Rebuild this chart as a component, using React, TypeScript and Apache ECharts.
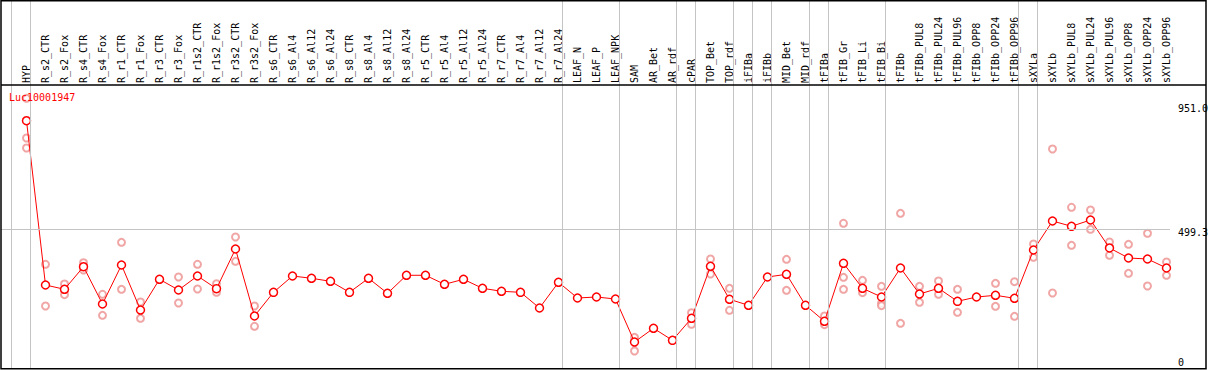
import React, { useEffect, useRef } from "react";
import * as echarts from "echarts";

const categories = [
  "HYP", "R_s2_CTR", "R_s2_Fox", "R_s4_CTR", "R_s4_Fox", "R_r1_CTR", "R_r1_Fox", "R_r3_CTR", "R_r3_Fox",
  "R_r1s2_CTR", "R_r1s2_Fox", "R_r3s2_CTR", "R_r3s2_Fox", "R_s6_CTR", "R_s6_Al4", "R_s6_Al12", "R_s6_Al24",
  "R_s8_CTR", "R_s8_Al4", "R_s8_Al12", "R_s8_Al24", "R_r5_CTR", "R_r5_Al4", "R_r5_Al12", "R_r5_Al24",
  "R_r7_CTR", "R_r7_Al4", "R_r7_Al12", "R_r7_Al24", "LEAF_N", "LEAF_P", "LEAF_NPK", "SAM", "AR_Bet", "AR_rdf",
  "cPAR", "TOP_Bet", "TOP_rdf", "iFIBa", "iFIBb", "MID_Bet", "MID_rdf", "tFIBa", "tFIB_Gr", "tFIB_Li", "tFIB_Bi",
  "tFIBb", "tFIBb_PUL8", "tFIBb_PUL24", "tFIBb_PUL96", "tFIBb_OPP8", "tFIBb_OPP24", "tFIBb_OPP96", "sXYLa",
  "sXYLb", "sXYLb_PUL8", "sXYLb_PUL24", "sXYLb_PUL96", "sXYLb_OPP8", "sXYLb_OPP24", "sXYLb_OPP96",
];

const meanValues = [
  893.8, 295.1, 279.5, 361.8, 225.9, 368.0, 204.0, 315.9, 276.9, 327.9, 281.7, 426.3, 182.2,
  268.5, 327.9, 319.6, 308.6, 268.5, 319.6, 264.9, 330.5, 330.5, 297.7, 315.9, 283.1,
  272.2, 268.5, 211.3, 305.0, 247.8, 251.4, 244.1, 87.4, 137.4, 93.6, 173.8, 363.3, 243.0,
  221.2, 324.3, 334.1, 221.2, 162.9, 374.2, 283.1, 251.4, 357.1, 262.3, 283.1, 235.7,
  251.4, 257.6, 246.7, 422.7, 528.3, 509.0, 532.0, 430.0, 393.5, 389.9, 357.1,
];

const replicateValues: number[][] = [
  [975.4, 830.8, 794.3], [370.6, 218.6], [298.8, 259.8], [376.4, 349.8], [261.3, 184.7],
  [450.7, 279.5], [233.2, 173.8], [], [324.3, 229.6], [370.6, 280.6], [299.9, 268.5],
  [470.0, 381.5], [218.6, 144.7], [], [], [], [], [], [], [], [], [], [], [], [], [], [], [], [],
  [], [], [], [104.6, 54.7], [], [], [194.2, 151.9], [389.9, 335.2], [283.1, 203.0], [], [],
  [388.8, 275.8], [], [182.2, 150.5], [520.0, 323.2, 279.5], [312.3, 267.1], [290.4, 228.5, 219.7],
  [556.4, 155.6], [290.4, 232.1], [309.7, 261.3], [279.5, 195.7], [], [301.3, 217.5], [307.2, 181.1],
  [444.5, 396.1], [790.7, 266.0], [578.3, 439.8], [568.4, 498.1], [451.8, 403.4], [443.4, 337.8],
  [483.5, 291.5], [378.9, 330.5],
];

// group separators are drawn just after these category indices
const separatorAfter = [-1, 0, 28, 31, 34, 35, 37, 38, 39, 41, 42, 45, 52, 53, 60];
const yTickValues = [0, 499.3, 951];
const yTickLabels = ["0", "499.3", "951.0"];
const geneLabel = "Luc10001947";

const FONT = '"DejaVu Sans Mono", monospace';

export default function App() {
  const ref = useRef<HTMLDivElement>(null);
  useEffect(() => {
    const chart = echarts.init(ref.current!, null, { renderer: "svg", width: 1209, height: 370 });
    const x0 = 26.5;
    const step = 19;
    const toV = (px: number) => (px - x0) / step;
    const k = 3.6437;
    const yMin = -3 * k;
    const yMax = 366 * k;

    const repData: [number, number][] = [];
    replicateValues.forEach((arr, i) => arr.forEach((v) => repData.push([i, v])));

    chart.setOption({
      animation: false,
      backgroundColor: "#fff",
      grid: [
        { left: 1, right: 39, top: 0, bottom: 1, outerBoundsMode: "none", containLabel: false },
        { left: 26.5, right: 42.5, top: 0, height: 85, outerBoundsMode: "none", containLabel: false },
      ],
      xAxis: [
        { gridIndex: 0, type: "value", min: toV(1), max: toV(1170), show: false },
        {
          gridIndex: 1,
          type: "category",
          data: categories,
          boundaryGap: false,
          position: "bottom",
          axisLine: { show: false },
          axisTick: { show: false },
          splitLine: { show: false },
          axisLabel: {
            interval: 0,
            rotate: 90,
            inside: true,
            margin: 2,
            fontFamily: FONT,
            fontSize: 10,
            color: "#000",
          },
        },
      ],
      yAxis: [
        {
          gridIndex: 0,
          type: "value",
          position: "right",
          min: yMin,
          max: yMax,
          splitLine: { show: false },
          axisLine: { show: false },
          axisTick: { show: false },
          axisLabel: {
            customValues: yTickValues,
            formatter: (v: number) => {
              const idx = yTickValues.findIndex((t) => Math.abs(t - v) < 1e-6);
              const s = idx >= 0 ? yTickLabels[idx] : "";
              return v === 0 ? s + "\n" : "\n" + s;
            },
            margin: 8,
            fontFamily: FONT,
            fontSize: 10,
            lineHeight: 7,
            verticalAlign: "middle",
            color: "#000",
          },
        },
        { gridIndex: 1, type: "value", show: false },
      ],
      series: [
        {
          type: "line",
          xAxisIndex: 0,
          yAxisIndex: 0,
          data: [],
          silent: true,
          z: 1,
          markLine: {
            silent: true,
            symbol: ["none", "none"],
            label: { show: false },
            lineStyle: { color: "#c4c4c4", width: 1, type: "solid" },
            data: [
              ...separatorAfter.map((s) => ({ xAxis: s + 0.21 })),
              { yAxis: 499.3 },
            ],
          },
        },
        {
          type: "scatter",
          xAxisIndex: 0,
          yAxisIndex: 0,
          data: repData,
          symbol: "emptyCircle",
          symbolSize: 7,
          itemStyle: { color: "#ee9090", borderColor: "#ee9090", borderWidth: 1.2 },
          z: 2,
        },
        {
          type: "line",
          xAxisIndex: 0,
          yAxisIndex: 0,
          data: meanValues.map((v, i) => [i, v]),
          symbol: "circle",
          symbolSize: 8,
          showAllSymbol: true,
          itemStyle: { color: "#fff", borderColor: "#ff0000", borderWidth: 1.5 },
          lineStyle: { color: "#ff0000", width: 1 },
          z: 3,
        },
      ],
      graphic: [
        {
          type: "text",
          left: 9,
          top: 92,
          z: 50,
          style: { text: geneLabel, fill: "#ff0000", font: '10px "DejaVu Sans Mono"' },
        },
        {
          type: "line",
          z: 100,
          shape: { x1: 1, y1: 85, x2: 1206, y2: 85 },
          style: { stroke: "#000", lineWidth: 1.5 },
        },
        {
          type: "rect",
          z: 100,
          shape: { x: 1, y: 0.75, width: 1205, height: 368 },
          style: { fill: "none", stroke: "#000", lineWidth: 1.5 },
        },
      ],
    });
    return () => chart.dispose();
  }, []);
  return (
    <div
      ref={ref}
      style={{ position: "fixed", left: 0, top: 0, width: 1209, height: 370, background: "#fff" }}
    />
  );
}
